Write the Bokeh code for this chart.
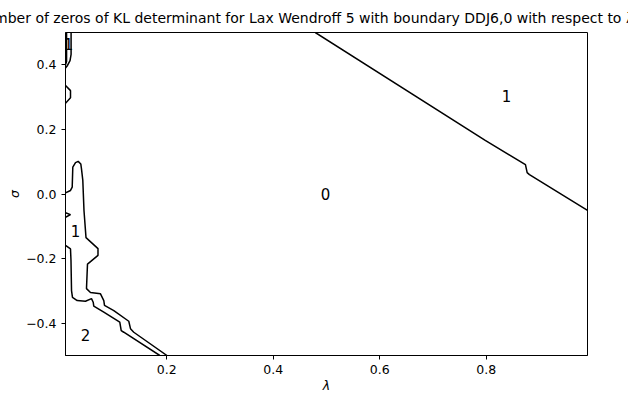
from bokeh.plotting import figure
from bokeh.models import ColumnDataSource, FixedTicker, Range1d
from bokeh.core.properties import value
from bokeh.embed import file_html
from bokeh.resources import INLINE

# ---- data (lambda, sigma) of contour lines ----
right_lam = [0.479, 0.798, 0.8735, 0.8767, 0.881, 0.990]
right_sig = [0.500, 0.166, 0.091, 0.066, 0.060, -0.051]

tl_a_lam = [0.012, 0.012, 0.010]
tl_a_sig = [0.500, 0.410, 0.400]

tl_b_lam = [0.0205, 0.0205, 0.0185, 0.013, 0.010]
tl_b_sig = [0.500, 0.432, 0.413, 0.396, 0.390]

bump_lam = [0.010, 0.0194, 0.0194, 0.010]
bump_sig = [0.336, 0.320, 0.298, 0.281]

tri_lam = [0.010, 0.0194, 0.010]
tri_sig = [-0.058, -0.064, -0.072]

inner_lam = [0.010, 0.0194, 0.0226, 0.0237, 0.0288, 0.0338, 0.0387, 0.040,
             0.0425, 0.0447, 0.0485, 0.071, 0.071, 0.0513, 0.0494, 0.0569,
             0.0757, 0.0819, 0.0832, 0.1007, 0.1288, 0.132, 0.1382, 0.2005]
inner_sig = [0.0037, 0.011, 0.021, 0.083, 0.097, 0.101, 0.093, 0.078,
             0.042, -0.051, -0.135, -0.169, -0.190, -0.217, -0.293, -0.305,
             -0.309, -0.330, -0.345, -0.361, -0.394, -0.417, -0.428, -0.500]

outer_lam = [0.010, 0.0194, 0.0203, 0.0213, 0.0231, 0.032, 0.0475, 0.0588,
             0.062, 0.0631, 0.0819, 0.1119, 0.1146, 0.1194, 0.187]
outer_sig = [-0.159, -0.170, -0.206, -0.299, -0.320, -0.330, -0.332, -0.324,
             -0.335, -0.347, -0.366, -0.397, -0.423, -0.428, -0.500]

label_text = ["0", "1", "1", "2", "1"]
label_lam = [0.498, 0.838, 0.029, 0.0475, 0.0156]
label_sig = [0.0, 0.302, -0.116, -0.438, 0.463]

x_ticks = [0.2, 0.4, 0.6, 0.8]
y_ticks = [-0.4, -0.2, 0.0, 0.2, 0.4]
y_tick_labels = ["\u22120.4", "\u22120.2", "0.0", "0.2", "0.4"]

FONT = "DejaVu Sans"

p = figure(width=628, height=385, output_backend="svg", toolbar_location=None,
           x_range=Range1d(0.01, 0.99), y_range=Range1d(-0.5, 0.5),
           min_border_left=65, min_border_right=41, min_border_top=32,
           min_border_bottom=30)
p.frame_width = 522
p.frame_height = 323

p.title.text = ("Number of zeros of KL determinant for Lax Wendroff 5 with boundary "
                "DDJ6,0 with respect to \u03bb and \u03c3")
p.title.align = "center"
p.title.text_font = FONT
p.title.text_font_style = "normal"
p.title.text_font_size = "14px"
p.title.text_color = "black"
p.title.standoff = 14

p.grid.visible = False
p.outline_line_color = "black"
p.outline_line_width = 1
p.background_fill_color = "white"
p.border_fill_color = "white"

for ax in (p.xaxis[0], p.yaxis[0]):
    ax.major_label_text_font = FONT
    ax.major_label_text_font_size = "12.5px"
    ax.major_label_text_color = "black"
    ax.axis_label_text_font = FONT
    ax.axis_label_text_font_size = "12.5px"
    ax.axis_label_text_font_style = "italic"
    ax.axis_label_text_color = "black"
    ax.axis_label_standoff = 1
    ax.major_tick_in = 0
    ax.major_tick_out = 4
    ax.minor_tick_in = 0
    ax.minor_tick_out = 0
    ax.axis_line_color = "black"
    ax.major_tick_line_color = "black"

p.xaxis.ticker = FixedTicker(ticks=x_ticks)
p.yaxis.ticker = FixedTicker(ticks=y_ticks)
p.yaxis.major_label_overrides = {t: s for t, s in zip(y_ticks, y_tick_labels)}
p.xaxis.major_label_overrides = {t: f"{t:.1f}" for t in x_ticks}
p.xaxis.axis_label = "\u03bb"
p.yaxis.axis_label = "\u03c3"

lines = ColumnDataSource(dict(
    xs=[right_lam, tl_a_lam, tl_b_lam, bump_lam, tri_lam, inner_lam, outer_lam],
    ys=[right_sig, tl_a_sig, tl_b_sig, bump_sig, tri_sig, inner_sig, outer_sig],
))
p.multi_line(xs="xs", ys="ys", source=lines, line_color="black", line_width=1.5)

labels = ColumnDataSource(dict(x=label_lam, y=label_sig, t=label_text))
p.text(x="x", y="y", text="t", source=labels, text_font=value(FONT),
       text_font_size="15px", text_align="center", text_baseline="middle",
       text_color="black")

open("out.html", "w").write(file_html(p, INLINE))
